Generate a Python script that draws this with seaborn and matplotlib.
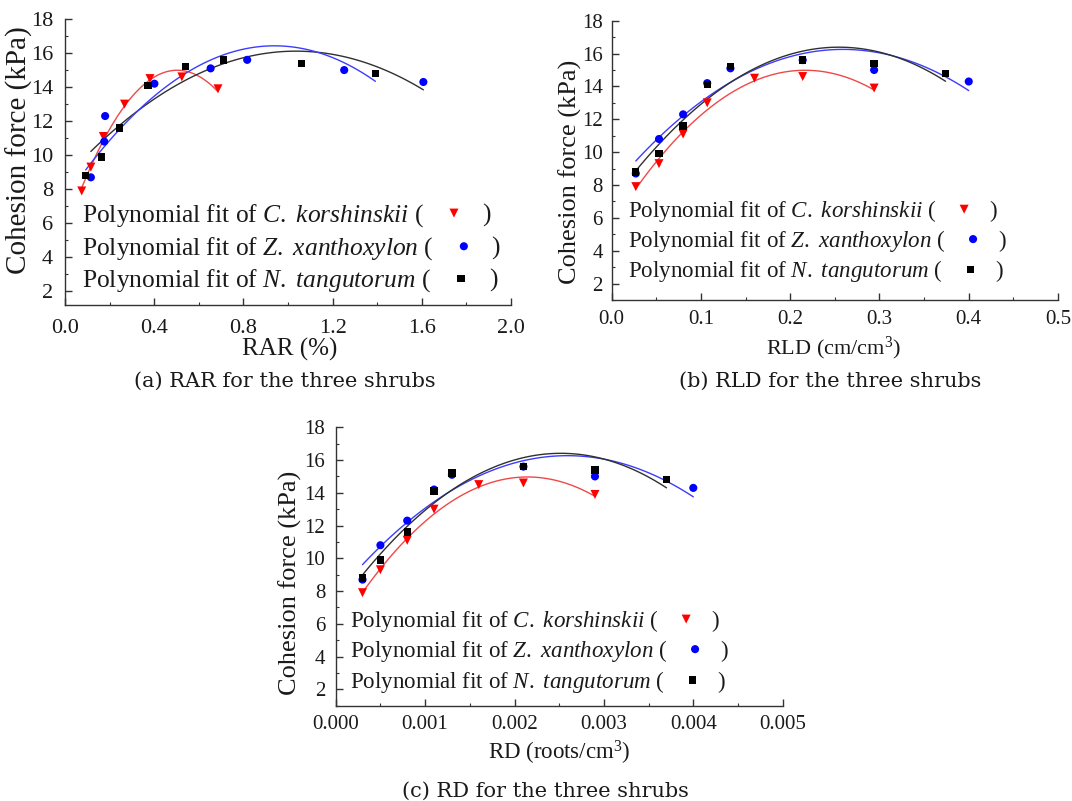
import numpy as np
import matplotlib
matplotlib.use("Agg")
import matplotlib.pyplot as plt
import seaborn as sns
from matplotlib.ticker import MultipleLocator, FormatStrFormatter

# cohesion force (kPa), same samples in the three panels
ck_force = [7.9, 9.3, 11.1, 13.0, 14.5, 14.6, 13.9]
zx_force = [8.7, 10.8, 12.3, 14.2, 15.1, 15.6, 15.0, 14.3]
nt_force = [8.8, 9.9, 11.6, 14.1, 15.2, 15.6, 15.4, 14.8]

# root area ratio (%)
ck_rar = [0.075, 0.116, 0.172, 0.267, 0.381, 0.524, 0.686]
zx_rar = [0.116, 0.176, 0.180, 0.401, 0.653, 0.817, 1.252, 1.607]
nt_rar = [0.093, 0.164, 0.243, 0.372, 0.539, 0.712, 1.060, 1.392]

# root length density (cm/cm3)
ck_rld = [0.027, 0.053, 0.080, 0.107, 0.160, 0.214, 0.294]
zx_rld = [0.027, 0.053, 0.080, 0.107, 0.133, 0.214, 0.294, 0.400]
nt_rld = [0.027, 0.053, 0.080, 0.107, 0.133, 0.214, 0.294, 0.374]

# root density (roots/cm3)
ck_rd = [0.0003, 0.0005, 0.0008, 0.0011, 0.0016, 0.0021, 0.0029]
zx_rd = [0.0003, 0.0005, 0.0008, 0.0011, 0.0013, 0.0021, 0.0029, 0.0040]
nt_rd = [0.0003, 0.0005, 0.0008, 0.0011, 0.0013, 0.0021, 0.0029, 0.0037]

species = ["C.\\ korshinskii", "Z.\\ xanthoxylon", "N.\\ tangutorum"]
captions = ["(a) RAR for the three shrubs", "(b) RLD for the three shrubs",
            "(c) RD for the three shrubs"]
xlabels = ["RAR (%)", "RLD (cm/cm$^3$)", "RD (roots/cm$^3$)"]

sns.set_style("ticks")
plt.rcParams["font.family"] = ["Liberation Serif", "DejaVu Serif"]
plt.rcParams["mathtext.fontset"] = "custom"
plt.rcParams["mathtext.rm"] = "Liberation Serif"
plt.rcParams["mathtext.it"] = "Liberation Serif:italic"
plt.rcParams["mathtext.bf"] = "Liberation Serif:bold"

W, H = 1072, 801
fig = plt.figure(figsize=(W / 100, H / 100), dpi=100)

point_cols = ["#ff0000", "#0000ff", "#000000"]
markers = ["v", "o", "s"]
sizes = [42, 34, 28]


def px_axes(left, right, top, bottom):
    return [left / W, 1 - bottom / H, (right - left) / W, (bottom - top) / H]


panels = [
    dict(rect=px_axes(65, 511, 19, 305), xs=[ck_rar, zx_rar, nt_rar], xmax=2.0, xmaj=0.4, fmt="%.1f",
         ymin=1.2, fs_tick=16, fs_lab=18, fs_ylab=21, fs_leg=18.4, pad_x=10, pad_y=8.5,
         ylab=(-0.072, 0.54), xlab=(0.504, -0.115), leg_x=0.037, leg_y=[0.291, 0.175, 0.063],
         # the fit line colours are swapped in the original panel (a)
         line_cols=["#f04848", "#303030", "#3c3cff"]),
    dict(rect=px_axes(611.7, 1058, 20.7, 300), xs=[ck_rld, zx_rld, nt_rld], xmax=0.5, xmaj=0.1, fmt="%.1f",
         ymin=1.0, fs_tick=15, fs_lab=16, fs_ylab=19, fs_leg=16.6, pad_x=7.5, pad_y=6.5,
         ylab=(-0.067, 0.46), xlab=(0.498, -0.125), leg_x=0.0365, leg_y=[0.297, 0.190, 0.082],
         line_cols=["#f04848", "#3c3cff", "#303030"]),
    dict(rect=px_axes(335.7, 782.7, 427.3, 705.7), xs=[ck_rd, zx_rd, nt_rd], xmax=0.005, xmaj=0.001, fmt="%.3f",
         ymin=1.0, fs_tick=15, fs_lab=16.5, fs_ylab=19, fs_leg=16.6, pad_x=7, pad_y=7.5,
         ylab=(-0.075, 0.44), xlab=(0.50, -0.118), leg_x=0.032, leg_y=[0.283, 0.175, 0.064],
         line_cols=["#f04848", "#3c3cff", "#303030"]),
]
forces = [ck_force, zx_force, nt_force]

legend_items = []
for k, p in enumerate(panels):
    ax = fig.add_axes(p["rect"])
    # second order polynomial fits, as in the original
    for i in range(3):
        sns.regplot(x=np.array(p["xs"][i]), y=np.array(forces[i]), order=2, ci=None, scatter=False,
                    line_kws=dict(color=p["line_cols"][i], lw=1.0), ax=ax)
    for i in range(3):
        sns.scatterplot(x=p["xs"][i], y=forces[i], marker=markers[i], color=point_cols[i],
                        s=sizes[i], edgecolor="none", linewidth=0, ax=ax, zorder=4)
    ax.set_xlim(0, p["xmax"])
    ax.set_ylim(p["ymin"], 18)
    ax.xaxis.set_major_locator(MultipleLocator(p["xmaj"]))
    ax.xaxis.set_minor_locator(MultipleLocator(p["xmaj"] / 2))
    ax.xaxis.set_major_formatter(FormatStrFormatter(p["fmt"]))
    ax.yaxis.set_major_locator(MultipleLocator(2))
    ax.yaxis.set_minor_locator(MultipleLocator(1))
    sns.despine(ax=ax)
    for s in ["left", "bottom"]:
        ax.spines[s].set_color("#333333")
        ax.spines[s].set_linewidth(1.0)
    ax.tick_params(which="major", direction="in", length=5, width=1, colors="#333333",
                   labelcolor="#1a1a1a", labelsize=p["fs_tick"])
    ax.tick_params(axis="x", which="major", pad=p["pad_x"])
    ax.tick_params(axis="y", which="major", pad=p["pad_y"])
    ax.tick_params(which="minor", direction="in", length=2.5, width=0.8, colors="#333333")
    ax.set_ylabel("Cohesion force (kPa)", fontsize=p["fs_ylab"], color="#1a1a1a")
    ax.yaxis.set_label_coords(*p["ylab"])
    ax.set_xlabel(xlabels[k], fontsize=p["fs_lab"], color="#1a1a1a")
    ax.xaxis.set_label_coords(*p["xlab"])
    for i in range(3):
        t = ax.text(p["leg_x"], p["leg_y"][i], "Polynomial fit of $\\mathit{%s}$ (" % species[i],
                    transform=ax.transAxes, fontsize=p["fs_leg"], ha="left", va="baseline",
                    color="#1a1a1a")
        legend_items.append((ax, t, i, p))

for k, cap in enumerate(captions):
    cx, cy = [(285, 381), (830, 381), (545, 791)][k]
    fig.text(cx / W, 1 - cy / H, cap, ha="center", va="center", fontsize=15,
             family="DejaVu Serif", color="#1a1a1a")

# place the marker and closing bracket of each legend line after its text
fig.canvas.draw()
renderer = fig.canvas.get_renderer()
for ax, t, i, p in legend_items:
    bb = t.get_window_extent(renderer)
    em = p["fs_leg"] * 100 / 72
    base_y = ax.transAxes.transform((p["leg_x"], p["leg_y"][i]))[1]
    inv = ax.transAxes.inverted()
    mx, my = inv.transform((bb.x1 + 1.2 * em, base_y + 0.34 * em))
    ax.scatter([mx], [my], marker=markers[i], color=point_cols[i], s=sizes[i],
               edgecolor="none", transform=ax.transAxes, clip_on=False, zorder=5)
    cx, cy = inv.transform((bb.x1 + 2.45 * em, base_y))
    ax.text(cx, cy, ")", transform=ax.transAxes, fontsize=p["fs_leg"], ha="center",
            va="baseline", color="#1a1a1a")

fig.savefig("out.png", dpi=100)
